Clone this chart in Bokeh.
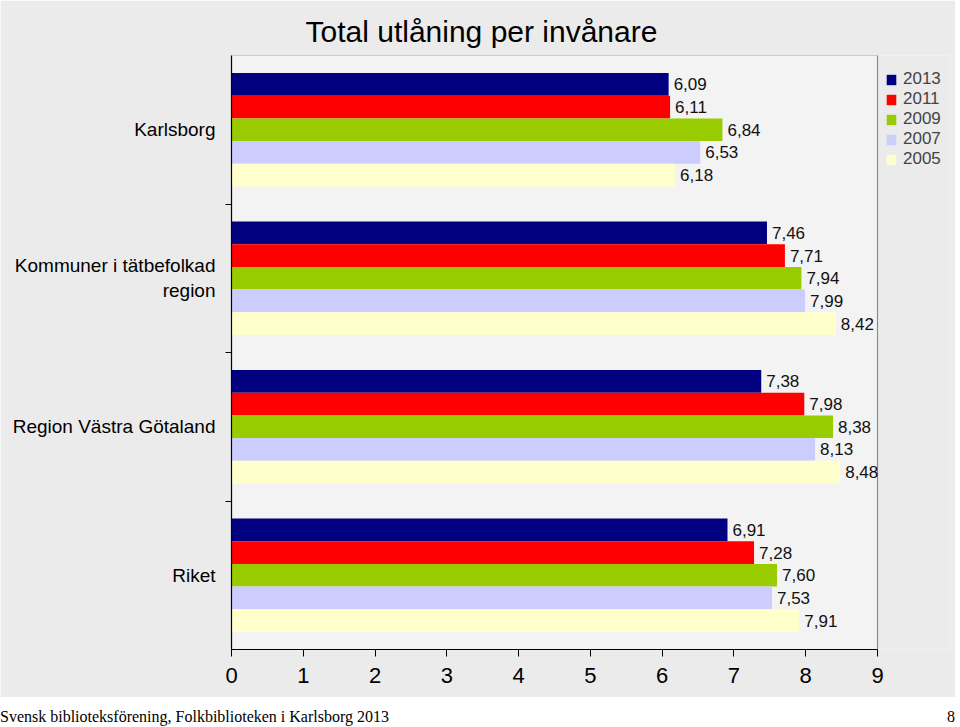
from bokeh.plotting import figure
from bokeh.models import (ColumnDataSource, Range1d, FixedTicker, Legend, LegendItem,
                          Title, Div, LabelSet, BoxAnnotation)
from bokeh.core.properties import value
from bokeh.layouts import column
from bokeh.embed import file_html
from bokeh.resources import INLINE

# ---- data ----
categories = ["Karlsborg", "Kommuner i tätbefolkad\nregion", "Region Västra Götaland", "Riket"]
years = ["2013", "2011", "2009", "2007", "2005"]
v2013 = [6.09, 7.46, 7.38, 6.91]
v2011 = [6.11, 7.71, 7.98, 7.28]
v2009 = [6.84, 7.94, 8.38, 7.60]
v2007 = [6.53, 7.99, 8.13, 7.53]
v2005 = [6.18, 8.42, 8.48, 7.91]
series = [v2013, v2011, v2009, v2007, v2005]
colors = ["#000080", "#FF0000", "#99CC00", "#CCCCFF", "#FFFFCC"]
x_ticks = [0, 1, 2, 3, 4, 5, 6, 7, 8, 9]
title_text = "Total utlåning per invånare"
footer_text = "Svensk biblioteksförening, Folkbiblioteken i Karlsborg 2013"
page_no = "8"

FONT = "Liberation Sans"
bar_h = 0.153
W, H = 955, 697
ML, MT, MB = 231, 55, 48
AXIS_W = 646                      # pixel width of the 0..9 value axis
MR = 5
FW, FH = W - ML - MR, H - MT - MB
x_end = x_ticks[-1] * FW / AXIS_W  # extend range so the legend fits inside the canvas frame

p = figure(width=W, height=H, output_backend="svg", toolbar_location=None,
           x_range=Range1d(x_ticks[0], x_end), y_range=Range1d(4, 0),
           min_border_left=ML, min_border_right=MR, min_border_top=MT, min_border_bottom=MB)
p.border_fill_color = "#ebebeb"
p.background_fill_color = "#ebebeb"
p.outline_line_color = None

# plot area box (0..9)
p.add_layout(BoxAnnotation(left=x_ticks[0], right=x_ticks[-1], fill_color="#f3f3f3",
                           fill_alpha=1, line_color="black", line_width=1.2, level="underlay"))

items = []
for j, (yr, vals, col) in enumerate(zip(years, series, colors)):
    ys = [i + 0.5 + (j - 2) * bar_h for i in range(len(categories))]
    src = ColumnDataSource(dict(y=ys, right=vals,
                                lab=[f"{v:.2f}".replace(".", ",") for v in vals]))
    r = p.hbar(y="y", right="right", left=0, height=bar_h, source=src,
               fill_color=col, line_color=None)
    items.append(LegendItem(label=yr, renderers=[r]))
    p.add_layout(LabelSet(x="right", y="y", text="lab", source=src, x_offset=5,
                          text_font=value(FONT), text_font_size="17px", text_color="#111111",
                          text_baseline="middle"))

# x axis
p.xaxis.ticker = FixedTicker(ticks=x_ticks)
p.xaxis.bounds = (x_ticks[0], x_ticks[-1])
p.xaxis.major_label_text_font = FONT
p.xaxis.major_label_text_font_size = "22px"
p.xaxis.major_label_text_color = "black"
p.xaxis.major_tick_in = 0
p.xaxis.major_tick_out = 7
p.xaxis.major_label_standoff = 11
p.xaxis.axis_line_color = "black"
p.xaxis.axis_line_width = 1.2
p.xaxis.major_tick_line_color = "black"

# y axis
p.yaxis.ticker = FixedTicker(ticks=[0.5, 1.5, 2.5, 3.5], minor_ticks=[1, 2, 3])
p.yaxis.major_label_overrides = {i + 0.5: c for i, c in enumerate(categories)}
p.yaxis.major_tick_out = 0
p.yaxis.major_tick_in = 0
p.yaxis.minor_tick_out = 6
p.yaxis.minor_tick_in = 0
p.yaxis.minor_tick_line_color = "black"
p.yaxis.major_label_standoff = 10
p.yaxis.major_label_text_font = FONT
p.yaxis.major_label_text_font_size = "19px"
p.yaxis.major_label_text_color = "black"
p.yaxis.axis_line_color = "black"
p.yaxis.axis_line_width = 1.2

p.xgrid.grid_line_color = "#999999"
p.xgrid.ticker = FixedTicker(ticks=x_ticks)
p.ygrid.grid_line_color = None

# title
t = Title(text=title_text, align="left", offset=74, text_font=FONT,
          text_font_size="30px", text_font_style="normal", text_color="black",
          vertical_align="top", standoff=12)
p.add_layout(t, "above")

legend = Legend(items=items, location=(AXIS_W + 8, FH - 114), orientation="vertical",
                label_text_font=FONT, label_text_font_size="17px",
                label_height=17, glyph_height=13, glyph_width=12,
                spacing=0, padding=0, margin=0, label_standoff=6,
                border_line_color=None, background_fill_alpha=0)
p.add_layout(legend, "center")

footer = Div(text=(f'<div style="display:flex;justify-content:space-between;width:{W}px;'
                   f'font-family:\'Liberation Serif\';font-size:16px;color:black;'
                   f'line-height:20px;padding-top:10px;">'
                   f'<span>{footer_text}</span><span>{page_no}</span></div>'),
             width=W, height=30, margin=(0, 0, 0, 0))

layout = column(p, footer, spacing=0)
open("out.html", "w").write(file_html(layout, INLINE))
